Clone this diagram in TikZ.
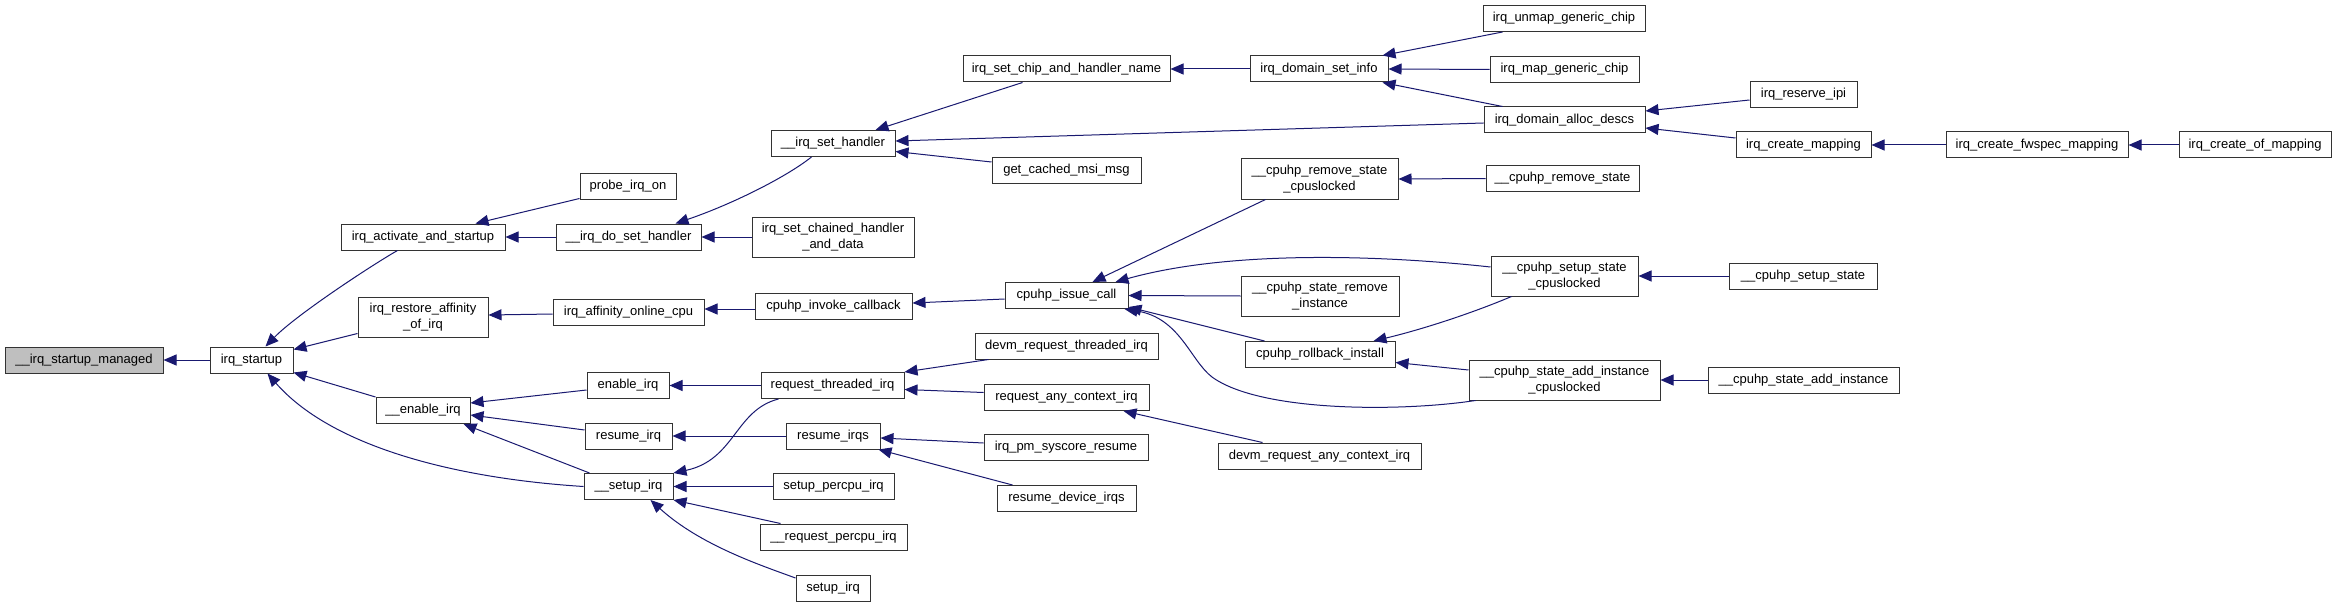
\documentclass[tikz,border=0pt]{standalone}
\usepackage{fontspec}
\setmainfont{Liberation Sans}
\usetikzlibrary{arrows.meta}
\definecolor{edgeblue}{HTML}{191970}
\definecolor{rootgray}{HTML}{BFBFBF}
\begin{document}
\begin{tikzpicture}[x=1pt,y=-1pt,
  fn/.style={draw=black!80, fill=white, line width=1pt, inner sep=0pt, align=center,
             font=\fontsize{13}{15.5}\selectfont},
  rootfn/.style={fn, fill=rootgray},
  e/.style={draw=edgeblue, line width=1pt, -{Triangle[length=13pt,width=11pt]}, fill=none}]
\useasboundingbox (0,0) rectangle (2337,607);
\fill[white] (0,0) rectangle (2337,607);
% rank 0-2
\node[rootfn, minimum width=158pt, minimum height=26pt] (mgd) at (84,360) {\_\_irq\_startup\_managed};
\node[fn, minimum width=83pt, minimum height=26pt] (startup) at (251.5,360) {irq\_startup};
\node[fn, minimum width=164pt, minimum height=26pt] (activate) at (423,237) {irq\_activate\_and\_startup};
\node[fn, minimum width=130pt, minimum height=40pt] (restore) at (423,317) {irq\_restore\_affinity\\\_of\_irq};
\node[fn, minimum width=94pt, minimum height=26pt] (enable_) at (423,410.5) {\_\_enable\_irq};
% rank 3
\node[fn, minimum width=96pt, minimum height=26pt] (probe) at (628,186) {probe\_irq\_on};
\node[fn, minimum width=145pt, minimum height=26pt] (doset) at (628.5,237) {\_\_irq\_do\_set\_handler};
\node[fn, minimum width=151pt, minimum height=26pt] (affin) at (628.5,312) {irq\_affinity\_online\_cpu};
\node[fn, minimum width=82pt, minimum height=26pt] (enable) at (628,385.5) {enable\_irq};
\node[fn, minimum width=87pt, minimum height=26pt] (resume) at (628.5,436) {resume\_irq};
\node[fn, minimum width=89pt, minimum height=26pt] (setup) at (628.5,486.5) {\_\_setup\_irq};
% rank 4
\node[fn, minimum width=124pt, minimum height=26pt] (seth) at (833,143.5) {\_\_irq\_set\_handler};
\node[fn, minimum width=162pt, minimum height=40pt] (chained) at (833,237) {irq\_set\_chained\_handler\\\_and\_data};
\node[fn, minimum width=157pt, minimum height=26pt] (invoke) at (833.5,306) {cpuhp\_invoke\_callback};
\node[fn, minimum width=143pt, minimum height=26pt] (reqthr) at (832.5,385.5) {request\_threaded\_irq};
\node[fn, minimum width=94pt, minimum height=26pt] (resirqs) at (833,436) {resume\_irqs};
\node[fn, minimum width=121pt, minimum height=26pt] (spcpu) at (833.5,486.5) {setup\_percpu\_irq};
\node[fn, minimum width=147pt, minimum height=26pt] (rpcpu) at (833.5,537) {\_\_request\_percpu\_irq};
\node[fn, minimum width=74pt, minimum height=26pt] (sirq) at (833,588) {setup\_irq};
% rank 5
\node[fn, minimum width=207pt, minimum height=26pt] (chipname) at (1066.5,69) {irq\_set\_chip\_and\_handler\_name};
\node[fn, minimum width=149pt, minimum height=26pt] (cached) at (1066.5,170.5) {get\_cached\_msi\_msg};
\node[fn, minimum width=123pt, minimum height=26pt] (issue) at (1066.5,295.5) {cpuhp\_issue\_call};
\node[fn, minimum width=183pt, minimum height=26pt] (devmthr) at (1066.5,346) {devm\_request\_threaded\_irq};
\node[fn, minimum width=165pt, minimum height=26pt] (anyctx) at (1066.5,397.5) {request\_any\_context\_irq};
\node[fn, minimum width=164pt, minimum height=26pt] (pmsys) at (1066,447) {irq\_pm\_syscore\_resume};
\node[fn, minimum width=139pt, minimum height=26pt] (resdev) at (1066.5,498.5) {resume\_device\_irqs};
% rank 6
\node[fn, minimum width=138pt, minimum height=26pt] (setinfo) at (1319,69) {irq\_domain\_set\_info};
\node[fn, minimum width=157pt, minimum height=40pt] (rmcpl) at (1319.5,179) {\_\_cpuhp\_remove\_state\\\_cpuslocked};
\node[fn, minimum width=158pt, minimum height=40pt] (rminst) at (1320,296) {\_\_cpuhp\_state\_remove\\\_instance};
\node[fn, minimum width=150pt, minimum height=26pt] (rollback) at (1320,354.5) {cpuhp\_rollback\_install};
\node[fn, minimum width=203pt, minimum height=26pt] (devmany) at (1319.5,456) {devm\_request\_any\_context\_irq};
% rank 7
\node[fn, minimum width=162pt, minimum height=26pt] (unmap) at (1564,18.5) {irq\_unmap\_generic\_chip};
\node[fn, minimum width=149pt, minimum height=26pt] (map) at (1564.5,69.5) {irq\_map\_generic\_chip};
\node[fn, minimum width=161pt, minimum height=26pt] (alloc) at (1564.5,120) {irq\_domain\_alloc\_descs};
\node[fn, minimum width=153pt, minimum height=26pt] (rmstate) at (1562.5,178.5) {\_\_cpuhp\_remove\_state};
\node[fn, minimum width=147pt, minimum height=40pt] (setupcpl) at (1564.5,276) {\_\_cpuhp\_setup\_state\\\_cpuslocked};
\node[fn, minimum width=191pt, minimum height=40pt] (addcpl) at (1564.5,380) {\_\_cpuhp\_state\_add\_instance\\\_cpuslocked};
% rank 8-10
\node[fn, minimum width=107pt, minimum height=26pt] (ipi) at (1803.5,94.5) {irq\_reserve\_ipi};
\node[fn, minimum width=135pt, minimum height=26pt] (cmap) at (1803.5,145) {irq\_create\_mapping};
\node[fn, minimum width=148pt, minimum height=26pt] (setupst) at (1803,276) {\_\_cpuhp\_setup\_state};
\node[fn, minimum width=191pt, minimum height=26pt] (addinst) at (1803.5,380) {\_\_cpuhp\_state\_add\_instance};
\node[fn, minimum width=182pt, minimum height=26pt] (fwspec) at (2037,145) {irq\_create\_fwspec\_mapping};
\node[fn, minimum width=152pt, minimum height=26pt] (ofmap) at (2255,145) {irq\_create\_of\_mapping};
% edges
\draw[e] (startup.west) -- (mgd.east);
\draw[e] ([xshift=57pt]activate.south west) .. controls (372,265) and (296,315) .. ([xshift=56pt]startup.north west);
\draw[e] ([yshift=4pt]restore.south west) -- ([yshift=-3pt]startup.north east);
\draw[e] (enable_.north west) -- ([yshift=1pt]startup.south east);
\draw[e] (setup.west) .. controls (450,478) and (330,445) .. ([xshift=16pt]startup.south);
\draw[e] ([yshift=1pt]probe.south west) -- ([xshift=-30pt]activate.north east);
\draw[e] (doset.west) -- (activate.east);
\draw[e] ([yshift=-2pt]affin.west) -- ([yshift=2pt]restore.east);
\draw[e] ([yshift=-4.5pt]enable.west) -- ([yshift=7.5pt]enable_.east);
\draw[e] ([yshift=6pt]resume.west) -- ([yshift=-4.5pt]enable_.east);
\draw[e] ([xshift=6pt]setup.north west) -- ([xshift=-7pt]enable_.south east);
\draw[e] ([xshift=41pt]seth.south west) .. controls (785,178) and (730,205) .. ([xshift=-26pt]doset.north east);
\draw[e] (chained.west) -- (doset.east);
\draw[e] ([yshift=-3pt]invoke.west) -- ([yshift=3pt]affin.east);
\draw[e] (reqthr.west) -- (enable.east);
\draw[e] (resirqs.west) -- (resume.east);
\draw[e] ([xshift=18pt]reqthr.south west) .. controls (735,410) and (735,460) .. (setup.north east);
\draw[e] (spcpu.west) -- (setup.east);
\draw[e] ([xshift=21pt]rpcpu.north west) -- (setup.south east);
\draw[e] ([yshift=10pt]sirq.west) .. controls (760,565) and (700,545) .. ([xshift=22pt]setup.south);
\draw[e] ([xshift=60pt]chipname.south west) -- ([xshift=-20pt]seth.north east);
\draw[e] ([yshift=-3pt]alloc.west) -- ([yshift=2.5pt]seth.east);
\draw[e] ([yshift=8.5pt]cached.west) -- ([yshift=-8pt]seth.east);
\draw[e] ([yshift=-3.5pt]issue.west) -- ([yshift=3pt]invoke.east);
\draw[e] ([xshift=14pt]devmthr.south west) -- (reqthr.north east);
\draw[e] ([yshift=5pt]anyctx.west) -- ([yshift=-4pt]reqthr.east);
\draw[e] ([yshift=4pt]pmsys.west) -- ([yshift=-2pt]resirqs.east);
\draw[e] ([xshift=16pt]resdev.north west) -- ([xshift=-2pt]resirqs.south east);
\draw[e] (setinfo.west) -- (chipname.east);
\draw[e] ([xshift=25pt]rmcpl.south west) -- ([xshift=26pt]issue.north);
\draw[e] ([yshift=9pt]setupcpl.west) .. controls (1380,255) and (1230,250) .. ([xshift=-13pt]issue.north east);
\draw[e] (rminst.west) -- (issue.east);
\draw[e] ([xshift=20pt]rollback.north west) -- ([yshift=2pt]issue.south east);
\draw[e] ([xshift=7pt]addcpl.south west) .. controls (1400,412) and (1260,412) .. (1212,377) .. controls (1190,360) and (1180,318) .. ([xshift=-4pt]issue.south east);
\draw[e] ([xshift=45pt]devmany.north west) -- ([xshift=-26pt]anyctx.south east);
\draw[e] ([xshift=21pt]setupcpl.south west) .. controls (1470,314) and (1420,330) .. ([xshift=-22pt]rollback.north east);
\draw[e] ([yshift=10pt]addcpl.west) -- ([yshift=-8pt]rollback.east);
\draw[e] ([xshift=20pt]unmap.south west) -- ([xshift=-6pt]setinfo.north east);
\draw[e] (map.west) -- (setinfo.east);
\draw[e] ([xshift=19pt]alloc.north west) -- ([xshift=-6pt]setinfo.south east);
\draw[e] (rmstate.west) -- (rmcpl.east);
\draw[e] ([yshift=-5.5pt]ipi.west) -- ([yshift=9pt]alloc.east);
\draw[e] ([yshift=7pt]cmap.west) -- ([yshift=-8pt]alloc.east);
\draw[e] (fwspec.west) -- (cmap.east);
\draw[e] (ofmap.west) -- (fwspec.east);
\draw[e] (setupst.west) -- (setupcpl.east);
\draw[e] (addinst.west) -- (addcpl.east);
\end{tikzpicture}
\end{document}
